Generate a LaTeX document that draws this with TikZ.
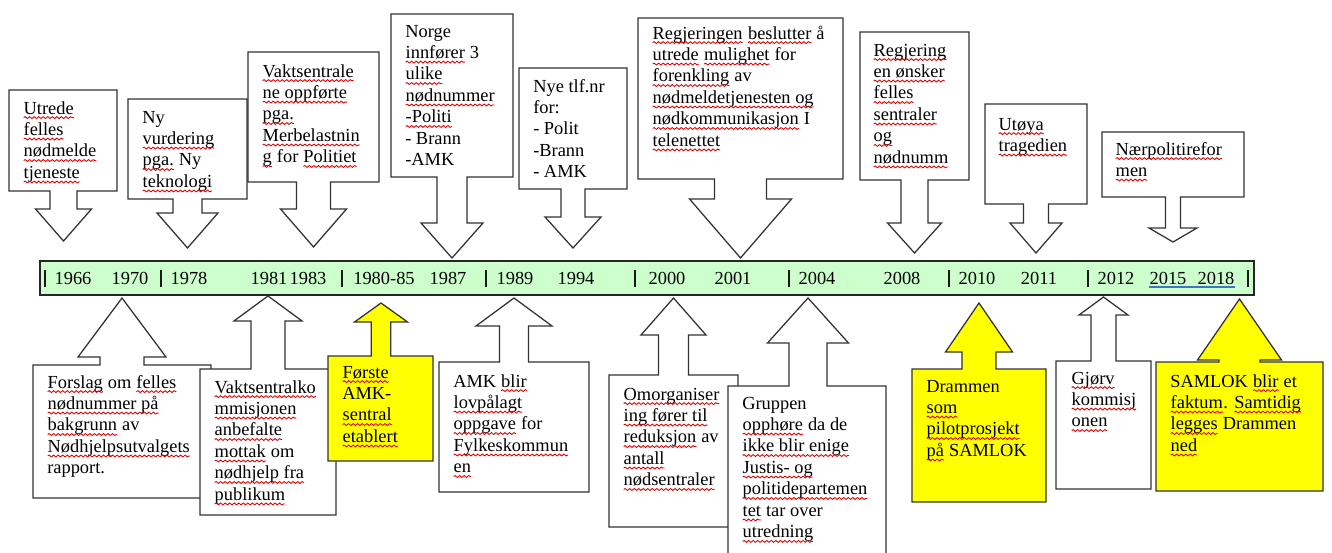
\documentclass[tikz,border=0pt]{standalone}
\usepackage{fontspec}
\setmainfont{Liberation Serif}
\usetikzlibrary{decorations.pathmorphing}
\definecolor{barfill}{HTML}{CCFFCC}
\definecolor{callyel}{HTML}{FFFF00}
\definecolor{ulblue}{HTML}{4472C4}
\definecolor{sqred}{HTML}{E00000}
\newcommand\sq[1]{\tikz[baseline=(w.base)]{\node[inner sep=0pt, outer sep=0pt, anchor=base] (w) {#1}; \draw[sqred, line width=0.65pt, decorate, decoration={snake, amplitude=0.7pt, segment length=3.4pt}] ([yshift=-2.7pt]w.base west) -- ([yshift=-2.7pt]w.base east);}}
\newcommand\mainsize{\fontsize{13.8}{16.1}\selectfont}
\newcommand\lns[1]{\vtop{\baselineskip=16.1pt\lineskiplimit=-30pt\lineskip=0pt #1}}
\newcommand\li[1]{\hbox{#1}}
\def\cf{white}
\newcommand\callout[9]{\draw[callout,fill=\cf] (#1,#2) -- (#3,#2) -- (#3,#4) -- ({#5+#6},#4) -- ({#5+#6},#7) -- ({#5+#8},#7) -- (#5,#9) -- ({#5-#8},#7) -- ({#5-#6},#7) -- ({#5-#6},#4) -- (#1,#4) -- cycle;}
\tikzset{
  x=0.75pt, y=-0.75pt,
  callout/.style={draw=black!80, line width=0.95pt, line join=miter},
  txt/.style={inner sep=0pt, anchor=base west, font=\mainsize},
  year/.style={inner sep=0pt, anchor=base, font=\mainsize},
  tickmark/.style={line width=1.4pt, black!90},
  barbox/.style={draw=black!85, line width=1.1pt, fill=barfill}
}
\begin{document}
\begin{tikzpicture}
\useasboundingbox (0,0) rectangle (1332,553);
\clip (0,0) rectangle (1332,553);
% timeline bar
\draw[barbox] (40,261) rectangle (1254,295);
\foreach \t in {45,161,342,486,635,789,949,1088,1248}{\draw[tickmark] (\t,270) -- (\t,287);}
\node[year] (y1966) at (73,284.5) {1966};
\node[year] (y1970) at (130,284.5) {1970};
\node[year] (y1978) at (189,284.5) {1978};
\node[year] (y1981) at (269,284.5) {1981};
\node[year] (y1983) at (308,284.5) {1983};
\node[year] (y1980) at (384,284.5) {1980-85};
\node[year] (y1987) at (448,284.5) {1987};
\node[year] (y1989) at (515,284.5) {1989};
\node[year] (y1994) at (576,284.5) {1994};
\node[year] (y2000) at (667,284.5) {2000};
\node[year] (y2001) at (733,284.5) {2001};
\node[year] (y2004) at (817,284.5) {2004};
\node[year] (y2008) at (902,284.5) {2008};
\node[year] (y2010) at (977,284.5) {2010};
\node[year] (y2011) at (1039,284.5) {2011};
\node[year] (y2012) at (1116,284.5) {2012};
\node[year] (y2015) at (1168,284.5) {2015};
\node[year] (y2018) at (1216,284.5) {2018};
\draw[ulblue, line width=0.9pt] (y2015.west |- 0,287) -- (y2018.east |- 0,287);
% top callouts
\callout{9}{90}{117}{191}{63.5}{13.5}{209}{28}{241}
\node[txt] (t1) at (23,114) {\lns{\li{\sq{Utrede}}\li{\sq{felles}}\li{\sq{nødmelde}}\li{\sq{tjeneste}}}};
\callout{128}{99}{247}{199}{187.5}{14.5}{213}{30.5}{248}
\node[txt] (t2) at (142,123) {\lns{\li{Ny}\li{\sq{vurdering}}\li{\sq{pga.} Ny}\li{\sq{teknologi}}}};
\callout{248}{52}{379}{182}{313.5}{17}{209}{33}{247}
\node[txt] (t3) at (262,77) {\lns{\li{\sq{Vaktsentrale}}\li{\sq{ne oppførte}}\li{\sq{pga.}}\li{\sq{Merbelastnin}}\li{\sq{g} for \sq{Politiet}}}};
\callout{391}{14}{513}{177}{452}{15}{223}{31}{258}
\node[txt] (t4) at (405,37) {\lns{\li{Norge}\li{\sq{innfører} 3}\li{\sq{ulike}}\li{\sq{nødnummer}}\li{\sq{-Politi}}\li{- Brann}\li{-AMK}}};
\callout{519}{68}{627}{189}{573}{12}{217}{28}{248}
\node[txt] (t5) at (533,92) {\lns{\li{Nye tlf.nr}\li{for:}\li{- Polit}\li{-Brann}\li{- AMK}}};
\callout{638}{18}{843}{179}{740.5}{26}{199}{51}{258}
\node[txt] (t6) at (652,39) {\lns{\li{\sq{Regjeringen} \sq{beslutter} å}\li{\sq{utrede} \sq{mulighet} for}\li{\sq{forenkling} av}\li{\sq{nødmeldetjenesten og}}\li{\sq{nødkommunikasjon} I}\li{\sq{telenettet}}}};
\callout{860}{32}{969}{180}{914.5}{13.5}{223}{27}{253}
\node[txt] (t7) at (873,56) {\lns{\li{\sq{Regjering}}\li{\sq{en ønsker}}\li{\sq{felles}}\li{\sq{sentraler}}\li{\sq{og}}\li{\sq{nødnumm}}}};
\callout{985}{104}{1087}{204}{1036}{12.5}{223}{26}{253}
\node[txt] (t8) at (998,130) {\lns{\li{\sq{Utøya}}\li{\sq{tragedien}}}};
\callout{1102}{132}{1244}{197}{1173}{7.5}{228}{24}{242}
\node[txt] (t9) at (1115,155) {\lns{\li{\sq{Nærpolitirefor}}\li{\sq{men}}}};
% bottom callouts
\callout{33}{498}{211}{365}{122}{22}{357}{44}{298}
\node[txt] (b1) at (47,388) {\lns{\li{\sq{Forslag} om \sq{felles}}\li{\sq{nødnummer på}}\li{\sq{bakgrunn} av}\li{\sq{Nødhjelpsutvalgets}}\li{rapport.}}};
\callout{200}{515}{336}{369}{268}{17}{321}{34}{296}
\node[txt] (b2) at (214,393) {\lns{\li{\sq{Vaktsentralko}}\li{\sq{mmisjonen}}\li{\sq{anbefalte}}\li{\sq{mottak} om}\li{\sq{nødhjelp fra}}\li{\sq{publikum}}}};
\def\cf{callyel}
\callout{328}{461}{433}{356}{381}{9.7}{322}{26.5}{303}
\node[txt] (b3) at (342,378) {\lns{\li{\sq{Første}}\li{AMK-}\li{\sq{sentral}}\li{\sq{etablert}}}};
\def\cf{white}
\callout{439}{492}{589}{362}{514}{14.5}{326}{38}{298}
\node[txt] (b4) at (453,387) {\lns{\li{AMK \sq{blir}}\li{\sq{lovpålagt}}\li{\sq{oppgave} for}\li{\sq{Fylkeskommun}}\li{\sq{en}}}};
\callout{609}{527}{738}{375}{673.5}{15}{335}{32.5}{298}
\node[txt] (b5) at (623,400) {\lns{\li{\sq{Omorganiser}}\li{\sq{ing fører til}}\li{\sq{reduksjon} av}\li{\sq{antall}}\li{\sq{nødsentraler}}}};
\callout{728}{575}{886}{386}{808}{19}{343}{40.5}{298}
\node[txt] (b6) at (742,409) {\lns{\li{Gruppen}\li{\sq{opphøre} da de}\li{\sq{ikke blir enige}}\li{\sq{Justis- og}}\li{\sq{politidepartemen}}\li{\sq{tet} tar over}\li{\sq{utredning}}}};
\def\cf{callyel}
\callout{912}{502}{1046}{369}{979}{17}{352}{33.5}{303}
\node[txt] (b7) at (926,392) {\lns{\li{Drammen}\li{\sq{som}}\li{\sq{pilotprosjekt}}\li{\sq{på} SAMLOK}}};
\def\cf{white}
\callout{1056}{489}{1151}{361}{1103.5}{12.5}{315}{24.5}{297}
\node[txt] (b8) at (1071,384) {\lns{\li{\sq{Gjørv}}\li{\sq{kommisj}}\li{\sq{onen}}}};
\def\cf{callyel}
\callout{1156}{491}{1323}{362}{1239.5}{20.5}{360}{42}{299}
\node[txt] (b9) at (1170,387) {\lns{\li{SAMLOK \sq{blir} et}\li{\sq{faktum}. \sq{Samtidig}}\li{\sq{legges} Drammen}\li{\sq{ned}}}};
\end{tikzpicture}
\end{document}
